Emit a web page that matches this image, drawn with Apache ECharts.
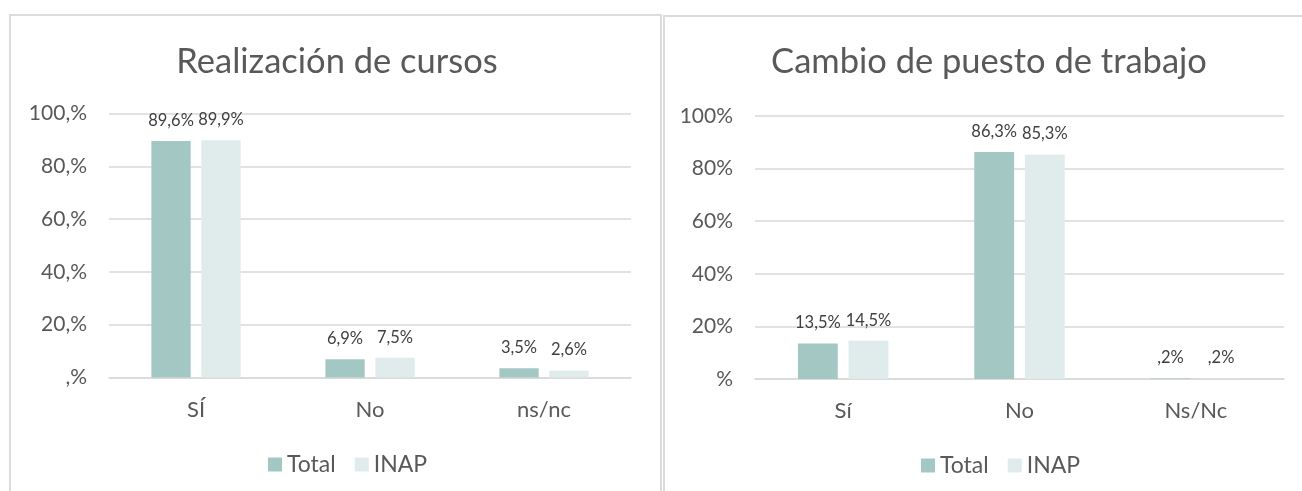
<!DOCTYPE html>
<html>
<head>
<meta charset="utf-8">
<script src="https://cdn.jsdelivr.net/npm/echarts@6/dist/echarts.min.js"></script>
<style>
  html, body { margin: 0; padding: 0; background: #fff; }
  #chart { width: 1302px; height: 491px; }
</style>
</head>
<body>
<div id="chart"></div>
<script>
const titles = ['Realización de cursos', 'Cambio de puesto de trabajo'];
const seriesNames = ['Total', 'INAP'];

const leftCategories = ['SÍ', 'No', 'ns/nc'];
const leftTotal = [89.6, 6.9, 3.5];
const leftInap = [89.9, 7.5, 2.6];
const leftTicks = [',%', '20,%', '40,%', '60,%', '80,%', '100,%'];

const rightCategories = ['Sí', 'No', 'Ns/Nc'];
const rightTotal = [13.5, 86.3, 0.2];
const rightInap = [14.5, 85.3, 0.2];
const rightTicks = ['%', '20%', '40%', '60%', '80%', '100%'];

const colors = ['#A3C8C4', '#DFECEB'];
const font = 'Lato';
const textColor = '#595959';

// 0.2 -> ",2%", 89.6 -> "89,6%"
const pct = v => String(v).replace('.', ',').replace(/^0,/, ',') + '%';

const chart = echarts.init(document.getElementById('chart'));

const yAxis = (gridIndex, ticks) => ({
  type: 'value', gridIndex, min: 0, max: 100, interval: 20,
  axisLine: { show: false }, axisTick: { show: false },
  splitLine: { lineStyle: { color: '#D9D9D9', width: 1.5 } },
  axisLabel: {
    margin: 22, color: textColor, fontFamily: font, fontSize: 21,
    formatter: v => ticks[Math.round(v / 20)]
  }
});

const xAxis = (gridIndex, cats) => ({
  type: 'category', gridIndex, data: cats,
  axisLine: { lineStyle: { color: '#D9D9D9', width: 1.5 } },
  axisTick: { show: false },
  axisLabel: { margin: 21, color: textColor, fontFamily: font, fontSize: 22 }
});

const bar = (name, data, idx, color) => ({
  name, type: 'bar', data, xAxisIndex: idx, yAxisIndex: idx,
  barWidth: '22.6%', barGap: '27%',
  itemStyle: { color },
  label: {
    show: true, position: 'top', distance: 12,
    color: '#404040', fontFamily: font, fontSize: 16.5,
    formatter: p => pct(p.value)
  }
});

const legend = (left, top) => ({
  data: seriesNames, left, top, itemWidth: 14, itemHeight: 14, itemGap: 19,
  icon: 'rect', textStyle: { color: textColor, fontFamily: font, fontSize: 23 }
});

chart.setOption({
  animation: false,
  title: [
    { text: titles[0], left: 332, top: 39, textAlign: 'center',
      textStyle: { color: textColor, fontFamily: font, fontSize: 34.5, fontWeight: 'normal' } },
    { text: titles[1], left: 984, top: 39, textAlign: 'center',
      textStyle: { color: textColor, fontFamily: font, fontSize: 34.5, fontWeight: 'normal' } }
  ],
  legend: [legend(263, 448), legend(916, 449)],
  grid: [
    { left: 109, top: 113.5, width: 522, height: 264 },
    { left: 755, top: 116, width: 529, height: 263 }
  ],
  xAxis: [xAxis(0, leftCategories), xAxis(1, rightCategories)],
  yAxis: [yAxis(0, leftTicks), yAxis(1, rightTicks)],
  series: [
    bar(seriesNames[0], leftTotal, 0, colors[0]),
    bar(seriesNames[1], leftInap, 0, colors[1]),
    bar(seriesNames[0], rightTotal, 1, colors[0]),
    bar(seriesNames[1], rightInap, 1, colors[1])
  ],
  graphic: [
    { type: 'rect', shape: { x: 10, y: 15, width: 651, height: 520 },
      style: { fill: 'none', stroke: '#DCDCDC', lineWidth: 2 }, silent: true },
    { type: 'rect', shape: { x: 664, y: 16, width: 700, height: 520 },
      style: { fill: 'none', stroke: '#DCDCDC', lineWidth: 2 }, silent: true }
  ]
});
</script>
</body>
</html>
